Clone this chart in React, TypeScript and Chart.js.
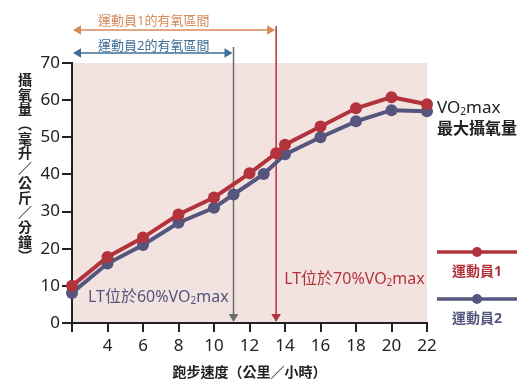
import React, { useEffect, useRef } from 'react';
import { Chart, registerables } from 'chart.js';

Chart.register(...registerables);

// ---- data ----
const seriesNames = ['運動員1', '運動員2'];
const speedsAthlete1 = [2, 4, 6, 8, 10, 12, 13.5, 14, 16, 18, 20, 22];
const vo2Athlete1 = [10, 17.8, 23, 29.2, 33.8, 40.3, 45.7, 48, 52.9, 57.8, 60.8, 58.9];
const speedsAthlete2 = [2, 4, 6, 8, 10, 11.1, 12.8, 14, 16, 18, 20, 22];
const vo2Athlete2 = [8.1, 16, 21, 27, 31, 34.6, 40.1, 45.4, 50, 54.3, 57.3, 57];
const xTickValues = [2, 4, 6, 8, 10, 12, 14, 16, 18, 20, 22];
const yTickValues = [0, 10, 20, 30, 40, 50, 60, 70];
const ltSpeedAthlete1 = 13.5;
const ltSpeedAthlete2 = 11.1;
const zoneLabels = ['運動員1的有氧區間', '運動員2的有氧區間'];
const ltLabels = [['LT位於70%VO', '2', 'max'], ['LT位於60%VO', '2', 'max']];
const vo2maxLabel = ['VO', '2', 'max'];
const vo2maxLabel2 = '最大攝氧量';
const xTitle = '跑步速度（公里／小時）';
const yTitleChars = ['攝', '氧', '量', '︵', '毫', '升', '／', '公', '斤', '／', '分', '鐘', '︶'];

// ---- styles ----
const FONT = '"Noto Sans", "Noto Sans CJK TC", sans-serif';
const RED = '#b3333c';
const PURPLE = '#55557e';
const GRAY = '#6d6d6d';
const ORANGE = '#d58a5a';
const BLUE = '#3e6e96';
const INK = '#222222';
const PLOT_BG = '#f2e3e0';

function drawSubText(ctx: CanvasRenderingContext2D, parts: string[], x: number, y: number, size: number, color: string, align: 'left' | 'center' = 'left') {
  ctx.save();
  ctx.fillStyle = color;
  ctx.textBaseline = 'middle';
  ctx.textAlign = 'left';
  const big = `${size}px ${FONT}`;
  const small = `${Math.round(size * 0.6)}px ${FONT}`;
  const widths: number[] = parts.map((p, i) => {
    ctx.font = i === 1 ? small : big;
    return ctx.measureText(p).width;
  });
  const total = widths.reduce((a, b) => a + b, 0);
  let cx = align === 'center' ? x - total / 2 : x;
  parts.forEach((p, i) => {
    ctx.font = i === 1 ? small : big;
    ctx.fillText(p, cx, i === 1 ? y + size * 0.25 : y);
    cx += widths[i];
  });
  ctx.restore();
}

function arrowHead(ctx: CanvasRenderingContext2D, x: number, y: number, dir: 'left' | 'right' | 'down', size: number, color: string) {
  ctx.save();
  ctx.fillStyle = color;
  ctx.beginPath();
  if (dir === 'left') {
    ctx.moveTo(x, y);
    ctx.lineTo(x + size, y - size * 0.6);
    ctx.lineTo(x + size, y + size * 0.6);
  } else if (dir === 'right') {
    ctx.moveTo(x, y);
    ctx.lineTo(x - size, y - size * 0.6);
    ctx.lineTo(x - size, y + size * 0.6);
  } else {
    ctx.moveTo(x, y);
    ctx.lineTo(x - size * 0.6, y - size);
    ctx.lineTo(x + size * 0.6, y - size);
  }
  ctx.closePath();
  ctx.fill();
  ctx.restore();
}

const decorPlugin = {
  id: 'decor',
  beforeDraw(chart: any) {
    const { ctx, chartArea: a } = chart;
    ctx.save();
    ctx.fillStyle = '#ffffff';
    ctx.fillRect(0, 0, chart.width, chart.height);
    ctx.fillStyle = PLOT_BG;
    ctx.fillRect(a.left, a.top, a.right - a.left, a.bottom - a.top);
    ctx.restore();
  },
  beforeDatasetsDraw(chart: any) {
    const { ctx, chartArea: a, scales } = chart;
    const xs = scales.x;
    const x0 = xs.getPixelForValue(xTickValues[0]);
    const xl1 = xs.getPixelForValue(ltSpeedAthlete1);
    const xl2 = xs.getPixelForValue(ltSpeedAthlete2);
    ctx.save();
    // vertical LT lines
    ctx.lineWidth = 1.5;
    ctx.strokeStyle = GRAY;
    ctx.beginPath();
    ctx.moveTo(xl2, a.top - 16);
    ctx.lineTo(xl2, a.bottom - 6);
    ctx.stroke();
    arrowHead(ctx, xl2, a.bottom - 1, 'down', 8, GRAY);
    ctx.strokeStyle = RED;
    ctx.beginPath();
    ctx.moveTo(xl1, a.top - 37);
    ctx.lineTo(xl1, a.bottom - 6);
    ctx.stroke();
    arrowHead(ctx, xl1, a.bottom - 1, 'down', 8, RED);

    // top zone arrows
    const drawZone = (xEnd: number, y: number, color: string, label: string, ty: number) => {
      ctx.strokeStyle = color;
      ctx.lineWidth = 1.5;
      ctx.beginPath();
      ctx.moveTo(x0 + 6, y);
      ctx.lineTo(xEnd - 6, y);
      ctx.stroke();
      arrowHead(ctx, x0 + 1, y, 'left', 8, color);
      arrowHead(ctx, xEnd - 1, y, 'right', 8, color);
      ctx.fillStyle = color;
      ctx.font = `13px ${FONT}`;
      ctx.textAlign = 'center';
      ctx.textBaseline = 'middle';
      ctx.fillText(label, (x0 + xl2) / 2 + 1, ty);
    };
    drawZone(xl1, a.top - 33, ORANGE, zoneLabels[0], a.top - 42);
    drawZone(xl2, a.top - 10, BLUE, zoneLabels[1], a.top - 17);
    ctx.restore();

    // LT labels
    drawSubText(ctx, ltLabels[0], xl1 + 8, a.bottom - 44, 16, RED);
    drawSubText(ctx, ltLabels[1], x0 + 16, a.bottom - 26, 16, PURPLE);
  },
  afterDraw(chart: any) {
    const { ctx, chartArea: a } = chart;
    ctx.save();
    // VO2max label
    drawSubText(ctx, vo2maxLabel, a.right + 10, a.top + 45, 17, INK);
    ctx.fillStyle = INK;
    ctx.font = `bold 16px ${FONT}`;
    ctx.textAlign = 'left';
    ctx.textBaseline = 'middle';
    ctx.fillText(vo2maxLabel2, a.right + 10, a.top + 66);

    // legend
    const colors = [RED, PURPLE];
    const lx1 = a.right + 10;
    const lx2 = a.right + 90;
    [0, 1].forEach((i) => {
      const ly = a.top + 189 + i * 47;
      ctx.strokeStyle = colors[i];
      ctx.lineWidth = 3.5;
      ctx.beginPath();
      ctx.moveTo(lx1, ly);
      ctx.lineTo(lx2, ly);
      ctx.stroke();
      ctx.fillStyle = colors[i];
      ctx.beginPath();
      ctx.arc((lx1 + lx2) / 2, ly, 5, 0, Math.PI * 2);
      ctx.fill();
      ctx.font = `bold 14px ${FONT}`;
      ctx.textAlign = 'center';
      ctx.fillText(seriesNames[i], (lx1 + lx2) / 2, ly + 20);
    });

    // axis titles
    ctx.fillStyle = INK;
    ctx.font = `bold 14px ${FONT}`;
    ctx.textAlign = 'center';
    ctx.textBaseline = 'middle';
    ctx.fillText(xTitle, (a.left + a.right) / 2, a.bottom + 50);
    yTitleChars.forEach((ch, i) => {
      ctx.fillText(ch, 25, 81 + i * 14.7);
    });
    ctx.restore();
  },
};

export default function App() {
  const canvasRef = useRef<HTMLCanvasElement | null>(null);

  useEffect(() => {
    if (!canvasRef.current) return;
    const chart = new Chart(canvasRef.current, {
      type: 'line',
      data: {
        datasets: [
          {
            label: seriesNames[0],
            data: speedsAthlete1.map((x, i) => ({ x, y: vo2Athlete1[i] })),
            borderColor: RED,
            backgroundColor: RED,
            pointBackgroundColor: RED,
            pointBorderWidth: 0,
            pointRadius: 6,
            borderWidth: 4,
            tension: 0,
            clip: false,
          },
          {
            label: seriesNames[1],
            data: speedsAthlete2.map((x, i) => ({ x, y: vo2Athlete2[i] })),
            borderColor: PURPLE,
            backgroundColor: PURPLE,
            pointBackgroundColor: PURPLE,
            pointBorderWidth: 0,
            pointRadius: 6,
            borderWidth: 4,
            tension: 0,
            clip: false,
          },
        ],
      },
      options: {
        responsive: false,
        animation: false,
        layout: { padding: { left: 0, right: 98, top: 63, bottom: 0 } },
        plugins: { legend: { display: false }, tooltip: { enabled: false } },
        scales: {
          x: {
            type: 'linear',
            min: xTickValues[0],
            max: xTickValues[xTickValues.length - 1],
            afterBuildTicks: (s: any) => {
              s.ticks = xTickValues.map((v) => ({ value: v }));
            },
            afterFit: (s: any) => {
              s.height = 67;
            },
            ticks: {
              color: INK,
              font: { family: FONT, size: 17 },
              padding: 4,
              maxRotation: 0,
              autoSkip: false,
              callback: (v: any) => (v === xTickValues[0] ? '' : String(v)),
            },
            grid: { drawOnChartArea: false, drawTicks: true, tickLength: 9, color: INK, lineWidth: 2 },
            border: { display: true, color: INK, width: 2 },
          },
          y: {
            type: 'linear',
            min: yTickValues[0],
            max: yTickValues[yTickValues.length - 1],
            afterBuildTicks: (s: any) => {
              s.ticks = yTickValues.map((v) => ({ value: v }));
            },
            afterFit: (s: any) => {
              s.width = 72;
            },
            ticks: {
              color: INK,
              font: { family: FONT, size: 17 },
              padding: 2,
              autoSkip: false,
            },
            grid: { drawOnChartArea: false, drawTicks: true, tickLength: 10, color: INK, lineWidth: 2 },
            border: { display: true, color: INK, width: 2 },
          },
        },
      },
      plugins: [decorPlugin],
    } as any);
    return () => chart.destroy();
  }, []);

  return (
    <div style={{ position: 'fixed', left: 0, top: 0, width: 525, height: 390 }}>
      <canvas ref={canvasRef} width={525} height={390} />
    </div>
  );
}
